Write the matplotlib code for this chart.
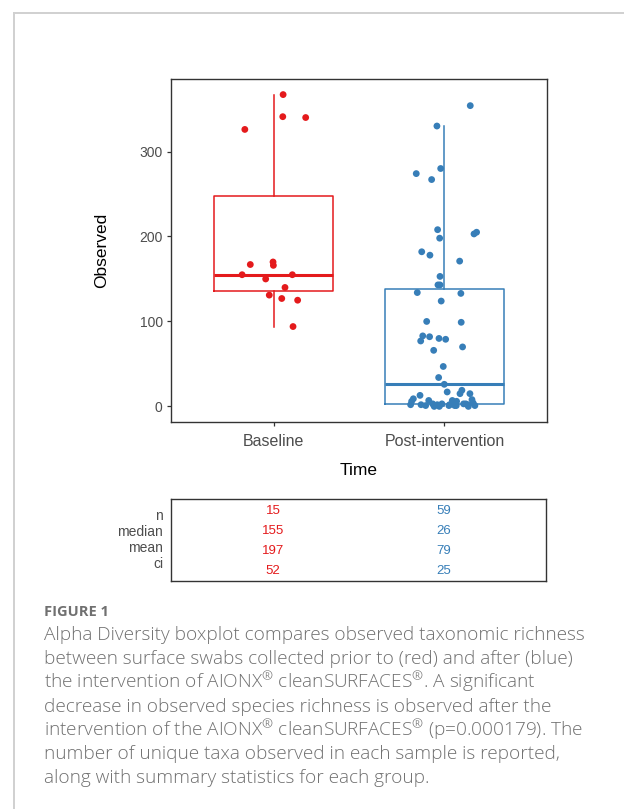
import matplotlib
matplotlib.use("Agg")
import matplotlib.pyplot as plt
from matplotlib.lines import Line2D

# ---------------- data ----------------
groups = ["Baseline", "Post-intervention"]
baseline_obs = [367, 341, 340, 326, 167, 170, 166, 155, 155, 150, 140, 131, 127, 125, 94]
baseline_jit = [0.056, 0.054, 0.188, -0.168, -0.136, -0.003, -0.001, -0.184, 0.110,
                -0.046, 0.067, -0.025, 0.048, 0.141, 0.114]
post_obs = [354, 330, 280, 274, 267, 208, 205, 203, 198, 182,
            178, 171, 153, 143, 143, 134, 133, 124, 100, 99,
            83, 82, 80, 79, 77, 70, 66, 47, 34, 26,
            19, 17, 15, 15, 13, 9, 8, 7, 7, 6,
            6, 4, 3, 3, 3, 3, 2, 2, 2, 2,
            2, 1, 1, 1, 1, 1, 0, 0, 0]
post_jit = [0.151, -0.044, -0.022, -0.165, -0.075, -0.040, 0.188, 0.173, -0.028, -0.133,
            -0.085, 0.089, -0.026, -0.038, -0.026, -0.159, 0.096, -0.019, -0.104, 0.098,
            -0.127, -0.087, -0.032, 0.007, -0.139, 0.106, -0.063, -0.007, -0.034, -0.001,
            0.102, 0.016, 0.091, 0.149, -0.143, -0.182, 0.161, -0.092, 0.046, -0.192,
            0.071, 0.168, -0.069, -0.015, 0.112, 0.125, -0.198, -0.137, -0.042, 0.136,
            0.030, 0.026, 0.069, 0.178, -0.110, 0.060, -0.030, 0.140, -0.060]
stat_names = ["n", "median", "mean", "ci"]
baseline_stats = ["15", "155", "197", "52"]
post_stats = ["59", "26", "79", "25"]
y_ticks = [0, 100, 200, 300]

caption_title = "FIGURE 1"
caption_lines = [
    "Alpha Diversity boxplot compares observed taxonomic richness",
    "between surface swabs collected prior to (red) and after (blue)",
    "the intervention of AIONX$^{®}$ cleanSURFACES$^{®}$. A significant",
    "decrease in observed species richness is observed after the",
    "intervention of the AIONX$^{®}$ cleanSURFACES$^{®}$ (p=0.000179). The",
    "number of unique taxa observed in each sample is reported,",
    "along with summary statistics for each group.",
]

colors = ["#E41A1C", "#377EB8"]

# ---------------- figure ----------------
W, H = 624, 809
plt.rcParams["font.family"] = ["Liberation Sans", "DejaVu Sans"]
plt.rcParams["mathtext.fontset"] = "custom"
plt.rcParams["mathtext.rm"] = "Open Sans:light"
plt.rcParams["mathtext.default"] = "regular"

fig = plt.figure(figsize=(W / 100, H / 100), dpi=100)


def rect(x0, y0, x1, y1):
    return [x0 / W, 1 - y1 / H, (x1 - x0) / W, (y1 - y0) / H]


# page frame lines
fig.add_artist(Line2D([14 / W, 1], [1 - 13 / H, 1 - 13 / H], transform=fig.transFigure,
                      color="#d0d0d0", lw=1.4))
fig.add_artist(Line2D([14 / W, 14 / W], [0, 1 - 13 / H], transform=fig.transFigure,
                      color="#d0d0d0", lw=1.4))

# ---------------- main panel ----------------
ax = fig.add_axes(rect(171, 79, 547, 422))
data = [baseline_obs, post_obs]
positions = [1, 2]
for i, (vals, c) in enumerate(zip(data, colors)):
    ax.boxplot([vals], positions=[positions[i]], widths=0.7, whis=1.5, showfliers=False,
               showcaps=False, patch_artist=False,
               boxprops=dict(color=c, lw=1.1),
               whiskerprops=dict(color=c, lw=1.1),
               medianprops=dict(color=c, lw=2.2, solid_capstyle="butt"))
for i, (vals, jit, c) in enumerate(zip(data, [baseline_jit, post_jit], colors)):
    xs = [positions[i] + j for j in jit]
    ax.scatter(xs, vals, s=24, color=c, edgecolors="none", zorder=3)

all_vals = baseline_obs + post_obs
lo, hi = min(all_vals), max(all_vals)
pad = 0.05 * (hi - lo)
ax.set_ylim(lo - pad, hi + pad)
ax.set_xlim(0.4, 2.6)
ax.set_yticks(y_ticks)
ax.set_xticks(positions)
ax.set_xticklabels(groups)
for s in ax.spines.values():
    s.set_color("#333333")
    s.set_linewidth(1.0)
ax.tick_params(axis="both", direction="out", length=3, width=0.9, color="#333333",
               labelcolor="#4D4D4D")
ax.tick_params(axis="y", labelsize=10, pad=3)
ax.tick_params(axis="x", labelsize=11.5, pad=6)
ax.set_ylabel("Observed", fontsize=12.5, color="black", labelpad=22)
ax.set_xlabel("Time", fontsize=12.5, color="black", labelpad=10)

# ---------------- stats table ----------------
tax = fig.add_axes(rect(171, 499, 546, 581))
tax.set_xlim(0.4, 2.6)
tax.set_ylim(0, 1)
tax.set_xticks([])
tax.set_yticks([])
for s in tax.spines.values():
    s.set_color("#333333")
    s.set_linewidth(1.0)
val_y = [510.7, 530.7, 550.7, 570.7]
lab_y = [516.5, 532.5, 548.5, 564.5]
for k, name in enumerate(stat_names):
    fig.text(163 / W, 1 - lab_y[k] / H, name, ha="right", va="center", fontsize=10,
             color="#4D4D4D")
    for i, (stats, c) in enumerate(zip([baseline_stats, post_stats], colors)):
        tax.text(positions[i], 1 - (val_y[k] - 499) / (581 - 499), stats[k], ha="center",
                 va="center", fontsize=9.5, color=c)

# ---------------- caption ----------------
fig.text(44 / W, 1 - 616 / H, caption_title, ha="left", va="baseline", fontsize=10.5,
         fontweight="bold", color="#707070", family="Open Sans")
base_y = [640, 664, 688, 712, 735.5, 759, 783]
cap_texts = []
for yb, line in zip(base_y, caption_lines):
    t = fig.text(44 / W, 1 - yb / H, line, ha="left", va="baseline", fontsize=12,
                 color="#707070", family="Open Sans", fontweight="light")
    cap_texts.append(t)

# fit caption size so the first line spans the same width as in the reference
fig.canvas.draw()
r = fig.canvas.get_renderer()
w0 = cap_texts[0].get_window_extent(renderer=r).width
scale = 538.0 / w0
for t in cap_texts:
    t.set_fontsize(12 * scale)

fig.savefig("out.png", dpi=100, facecolor="white")
